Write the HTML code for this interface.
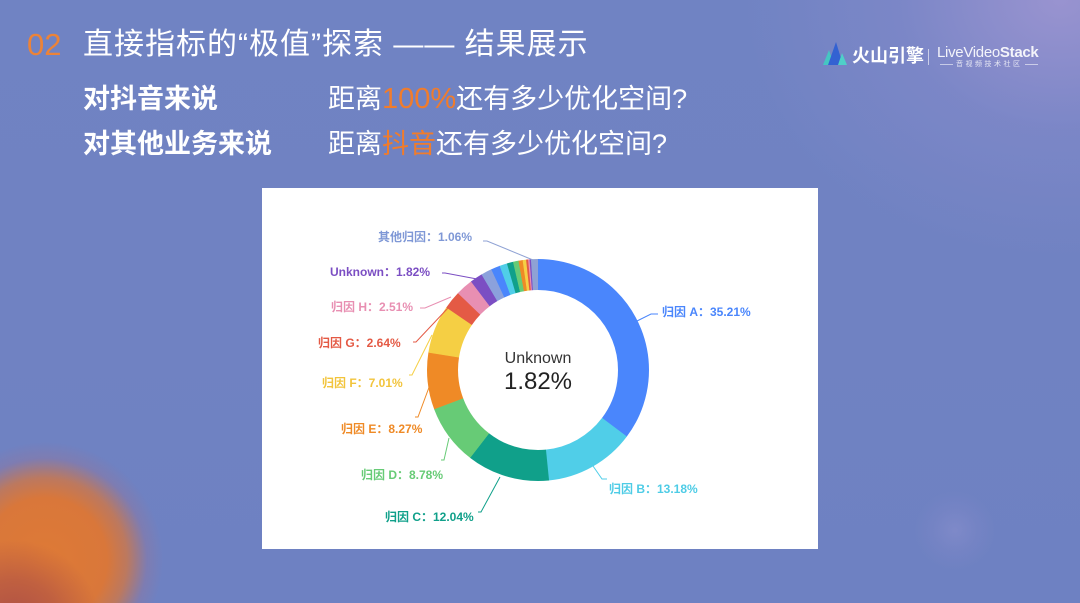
<!DOCTYPE html>
<html><head><meta charset="utf-8">
<style>
*{margin:0;padding:0;box-sizing:border-box}
html,body{width:1080px;height:603px;overflow:hidden}
body{position:relative;font-family:"Liberation Sans","Noto Sans CJK SC",sans-serif;
background:
radial-gradient(circle at 15px 625px, rgba(165,72,72,0.85) 0px, rgba(165,72,72,0.5) 45px, rgba(165,72,72,0) 85px),
radial-gradient(circle at 45px 560px, #de7a36 0px, #d9773a 62px, rgba(214,118,62,0.75) 82px, rgba(170,110,130,0.25) 102px, rgba(111,130,195,0) 118px),
radial-gradient(circle at 955px 530px, rgba(150,150,210,0.4) 0px, rgba(140,140,205,0.2) 22px, rgba(111,130,195,0) 40px),
radial-gradient(ellipse 320px 260px at 1060px 0px, rgba(160,150,210,0.85) 0%, rgba(140,140,205,0.4) 50%, rgba(111,130,195,0) 100%),
linear-gradient(180deg,#7083c3 0%,#7082c2 50%,#6e81c2 100%);}
.t{position:absolute;white-space:nowrap;color:#fff}
.card{position:absolute;left:262px;top:188px;width:556px;height:361px;background:#fff}
</style></head><body>

<div class="t" style="left:27px;top:29px;font-size:31px;line-height:31px;color:#ec8338;">02</div>
<div class="t" style="left:83px;top:30px;font-size:30px;line-height:30px;letter-spacing:1px;">直接指标的“极值”探索 —— 结果展示</div>

<div class="t" style="left:83px;top:86px;font-size:27px;line-height:27px;font-weight:bold;">对抖音来说</div>
<div class="t" style="left:328px;top:86px;font-size:27px;line-height:27px;">距离<span style="color:#f07c2c;font-size:29px;">100%</span>还有多少优化空间?</div>
<div class="t" style="left:83px;top:131px;font-size:27px;line-height:27px;font-weight:bold;">对其他业务来说</div>
<div class="t" style="left:328px;top:131px;font-size:27px;line-height:27px;">距离<span style="color:#f07c2c;">抖音</span>还有多少优化空间?</div>

<!-- logo -->
<svg style="position:absolute;left:0;top:0" width="1080" height="603">
  <polygon points="823,65 829,50 834,65" fill="#45c6c2"/>
  <polygon points="828,65 836,42 843,65" fill="#3362d2"/>
  <polygon points="838,65 842,53 847,65" fill="#4fd0c8"/>
  <line x1="928.5" y1="49" x2="928.5" y2="65" stroke="rgba(255,255,255,0.6)" stroke-width="1"/>
  <line x1="940" y1="64.5" x2="953" y2="64.5" stroke="rgba(255,255,255,0.7)" stroke-width="0.8"/>
  <line x1="1025" y1="64.5" x2="1038" y2="64.5" stroke="rgba(255,255,255,0.7)" stroke-width="0.8"/>
</svg>
<div class="t" style="left:852px;top:47px;font-size:18px;line-height:18px;font-weight:bold;">火山引擎</div>
<div class="t" style="left:937px;top:45px;font-size:15px;line-height:15px;color:rgba(255,255,255,0.9);letter-spacing:-0.3px;">LiveVideo<b>Stack</b></div>
<div class="t" style="left:956px;top:61px;font-size:7px;line-height:7px;letter-spacing:2.5px;color:rgba(255,255,255,0.8);">音视频技术社区</div>

<div class="card"></div>

<svg style="position:absolute;left:0;top:0" width="1080" height="603">
  <g fill="none" stroke-width="31" transform="rotate(-90 538 370)">
    <circle cx="538" cy="370" r="95.5" stroke="#4a86fc" stroke-dasharray="0 0 211.6 1000"/>
    <circle cx="538" cy="370" r="95.5" stroke="#50cee8" stroke-dasharray="0 211.28 79.4 1000"/>
    <circle cx="538" cy="370" r="95.5" stroke="#10a08a" stroke-dasharray="0 290.36 72.55 1000"/>
    <circle cx="538" cy="370" r="95.5" stroke="#67cb76" stroke-dasharray="0 362.61 53.0 1000"/>
    <circle cx="538" cy="370" r="95.5" stroke="#ef8a26" stroke-dasharray="0 415.29 49.9 1000"/>
    <circle cx="538" cy="370" r="95.5" stroke="#f5cf44" stroke-dasharray="0 464.91 42.4 1000"/>
    <circle cx="538" cy="370" r="95.5" stroke="#e45a45" stroke-dasharray="0 506.97 16.1 1000"/>
    <circle cx="538" cy="370" r="95.5" stroke="#e88fb2" stroke-dasharray="0 522.82 15.4 1000"/>
    <circle cx="538" cy="370" r="95.5" stroke="#7b4ec3" stroke-dasharray="0 537.88 11.2 1000"/>
    <circle cx="538" cy="370" r="95.5" stroke="#8ba1dc" stroke-dasharray="0 548.80 9.8 1000"/>
    <circle cx="538" cy="370" r="95.5" stroke="#4a86fc" stroke-dasharray="0 558.28 8.1 1000"/>
    <circle cx="538" cy="370" r="95.5" stroke="#50cee8" stroke-dasharray="0 566.08 6.9 1000"/>
    <circle cx="538" cy="370" r="95.5" stroke="#10a08a" stroke-dasharray="0 572.68 5.7 1000"/>
    <circle cx="538" cy="370" r="95.5" stroke="#67cb76" stroke-dasharray="0 578.08 5.1 1000"/>
    <circle cx="538" cy="370" r="95.5" stroke="#ef8a26" stroke-dasharray="0 582.88 3.9 1000"/>
    <circle cx="538" cy="370" r="95.5" stroke="#f5cf44" stroke-dasharray="0 586.48 3.3 1000"/>
    <circle cx="538" cy="370" r="95.5" stroke="#e45a45" stroke-dasharray="0 589.48 2.1 1000"/>
    <circle cx="538" cy="370" r="95.5" stroke="#e88fb2" stroke-dasharray="0 591.28 1.5 1000"/>
    <circle cx="538" cy="370" r="95.5" stroke="#7b4ec3" stroke-dasharray="0 592.48 1.5 1000"/>
    <circle cx="538" cy="370" r="95.5" stroke="#8fa2d4" stroke-dasharray="0 593.68 6.4 1000"/>
  </g>

  <g fill="none" stroke-width="1">
    <polyline points="637,321 651,314 658,314" stroke="#4a86fc"/>
    <polyline points="593,466 602,479 607,479" stroke="#50cee8"/>
    <polyline points="500,477 481,512 478,512" stroke="#10a08a"/>
    <polyline points="449,438 444,460 441,460" stroke="#67cb76"/>
    <polyline points="431,382 418,417 415,417" stroke="#ef8a26"/>
    <polyline points="432,335 412,375 409,375" stroke="#f5cf44"/>
    <polyline points="448,308 416,342 413,342" stroke="#e45a45"/>
    <polyline points="451,297 425,308 420,308" stroke="#e88fb2"/>
    <polyline points="477,279 445,273 442,273" stroke="#7b4ec3"/>
    <polyline points="533,260 487,241 483,241" stroke="#8fa2d4"/>
  </g>

  <g font-family="Liberation Sans, Noto Sans CJK SC, sans-serif" font-size="12" font-weight="bold">
    <text x="378" y="241" fill="#7f98d6">其他归因：1.06%</text>
    <text x="330" y="276" fill="#7b4ec3">Unknown：1.82%</text>
    <text x="331" y="311" fill="#e88fb2">归因 H：2.51%</text>
    <text x="318" y="347" fill="#e45a45">归因 G：2.64%</text>
    <text x="322" y="387" fill="#f2c43c">归因 F：7.01%</text>
    <text x="341" y="433" fill="#ef8a26">归因 E：8.27%</text>
    <text x="361" y="479" fill="#67cb76">归因 D：8.78%</text>
    <text x="385" y="521" fill="#10a08a">归因 C：12.04%</text>
    <text x="609" y="493" fill="#4ecce6">归因 B：13.18%</text>
    <text x="662" y="316" fill="#4a86fc">归因 A：35.21%</text>
  </g>

  <text x="538" y="363" text-anchor="middle" font-family="Liberation Sans, sans-serif" font-size="16" fill="#333">Unknown</text>
  <text x="538" y="389" text-anchor="middle" font-family="Liberation Sans, sans-serif" font-size="24" fill="#222">1.82%</text>
</svg>
</body></html>
